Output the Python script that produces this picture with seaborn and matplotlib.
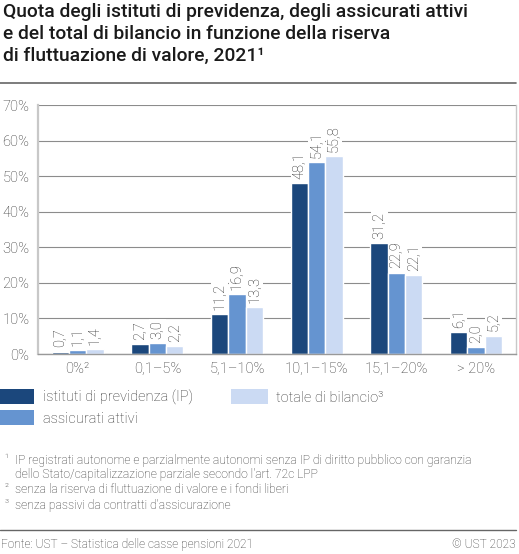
import numpy as np
import pandas as pd
import seaborn as sns
import matplotlib.pyplot as plt
from matplotlib.patches import Patch

categorie = ["0%²", "0,1–5%", "5,1–10%", "10,1–15%", "15,1–20%", "> 20%"]
serie = ["istituti di previdenza (IP)", "assicurati attivi", "totale di bilancio³"]
istituti = [0.7, 2.7, 11.2, 48.1, 31.2, 6.1]
assicurati = [1.1, 3.0, 16.9, 54.1, 22.9, 2.0]
bilancio = [1.4, 2.2, 13.3, 55.8, 22.1, 5.2]
colori = ["#1b477c", "#6594d0", "#cbdaf3"]

df = pd.DataFrame({
    "cat": categorie * 3,
    "serie": [serie[0]] * 6 + [serie[1]] * 6 + [serie[2]] * 6,
    "val": istituti + assicurati + bilancio,
})

sns.set_theme(style="white")
plt.rcParams["font.family"] = ["Roboto", "DejaVu Sans"]
plt.rcParams["font.weight"] = "light"

fig = plt.figure(figsize=(5.19, 5.54), dpi=100)
ax = fig.add_axes([0.073, 0.361, 0.921, 0.449])

sns.barplot(data=df, x="cat", y="val", hue="serie", palette=colori, width=0.65,
            saturation=1, ax=ax, legend=False, order=categorie, hue_order=serie)

ax.set_ylim(0, 70)
ax.set_yticks(range(0, 71, 10))
ax.set_yticklabels([f"{v}%" for v in range(0, 71, 10)])
ax.yaxis.grid(True, color="#8c8c8c", linewidth=0.8)
ax.set_axisbelow(True)
ax.set_xlabel("")
ax.set_ylabel("")
ax.tick_params(axis="both", length=0, labelsize=10.5, colors="#333333", pad=6)
for s in ["left", "right"]:
    ax.spines[s].set_color("#c8c8c8")
    ax.spines[s].set_linewidth(1.6)
ax.spines["right"].set_linewidth(1.0)
ax.spines["top"].set_visible(False)
ax.spines["bottom"].set_color("#999999")
ax.spines["bottom"].set_linewidth(1.0)

for cont in ax.containers:
    lbl = ax.bar_label(cont, labels=[f"{b.get_height():.1f}".replace(".", ",") for b in cont],
                       rotation=90, padding=3, fontsize=10.5, color="#2a2a2a")
    for t in lbl:
        t.set_bbox(dict(facecolor="white", edgecolor="none", pad=1))

# titolo
fig.text(0.006, 0.994, "Quota degli istituti di previdenza, degli assicurati attivi\n"
         "e del total di bilancio in funzione della riserva\n"
         "di fluttuazione di valore, 2021¹",
         ha="left", va="top", fontsize=13.9, fontweight="medium", color="#1a1a1a",
         linespacing=1.27)
fig.add_artist(plt.Line2D([0, 0.994], [0.85, 0.85], color="#666666", linewidth=1.2))

# legenda
handles = [Patch(facecolor=c, edgecolor="none") for c in colori]
fig.legend(handles, serie, loc="upper left", bbox_to_anchor=(-0.004, 0.297), ncol=2,
           frameon=False, fontsize=10.5, handlelength=2.5, handleheight=1.2,
           handletextpad=0.6, columnspacing=2.6, labelspacing=0.35,
           labelcolor="#333333", borderaxespad=0, borderpad=0)

# note
note = [
    ("¹", "IP registrati autonome e parzialmente autonomi senza IP di diritto pubblico con garanzia\n"
          "dello Stato/capitalizzazione parziale secondo l'art. 72c LPP"),
    ("²", "senza la riserva di fluttuazione di valore e i fondi liberi"),
    ("³", "senza passivi da contratti d'assicurazione"),
]
ys = [0.181, 0.128, 0.099]
for (n, testo), y in zip(note, ys):
    fig.text(0.008, y, n, fontsize=8, color="#333333", va="top")
    fig.text(0.029, y, testo, fontsize=8.7, color="#333333", va="top", linespacing=1.12)

fig.add_artist(plt.Line2D([0, 0.994], [0.044, 0.044], color="#666666", linewidth=1.0))
fig.text(0.002, 0.005, "Fonte: UST – Statistica delle casse pensioni 2021", fontsize=8.6,
         color="#333333", va="bottom")
fig.text(0.994, 0.005, "© UST 2023", fontsize=8.6, color="#333333", va="bottom", ha="right")

fig.savefig("out.png", dpi=100)
